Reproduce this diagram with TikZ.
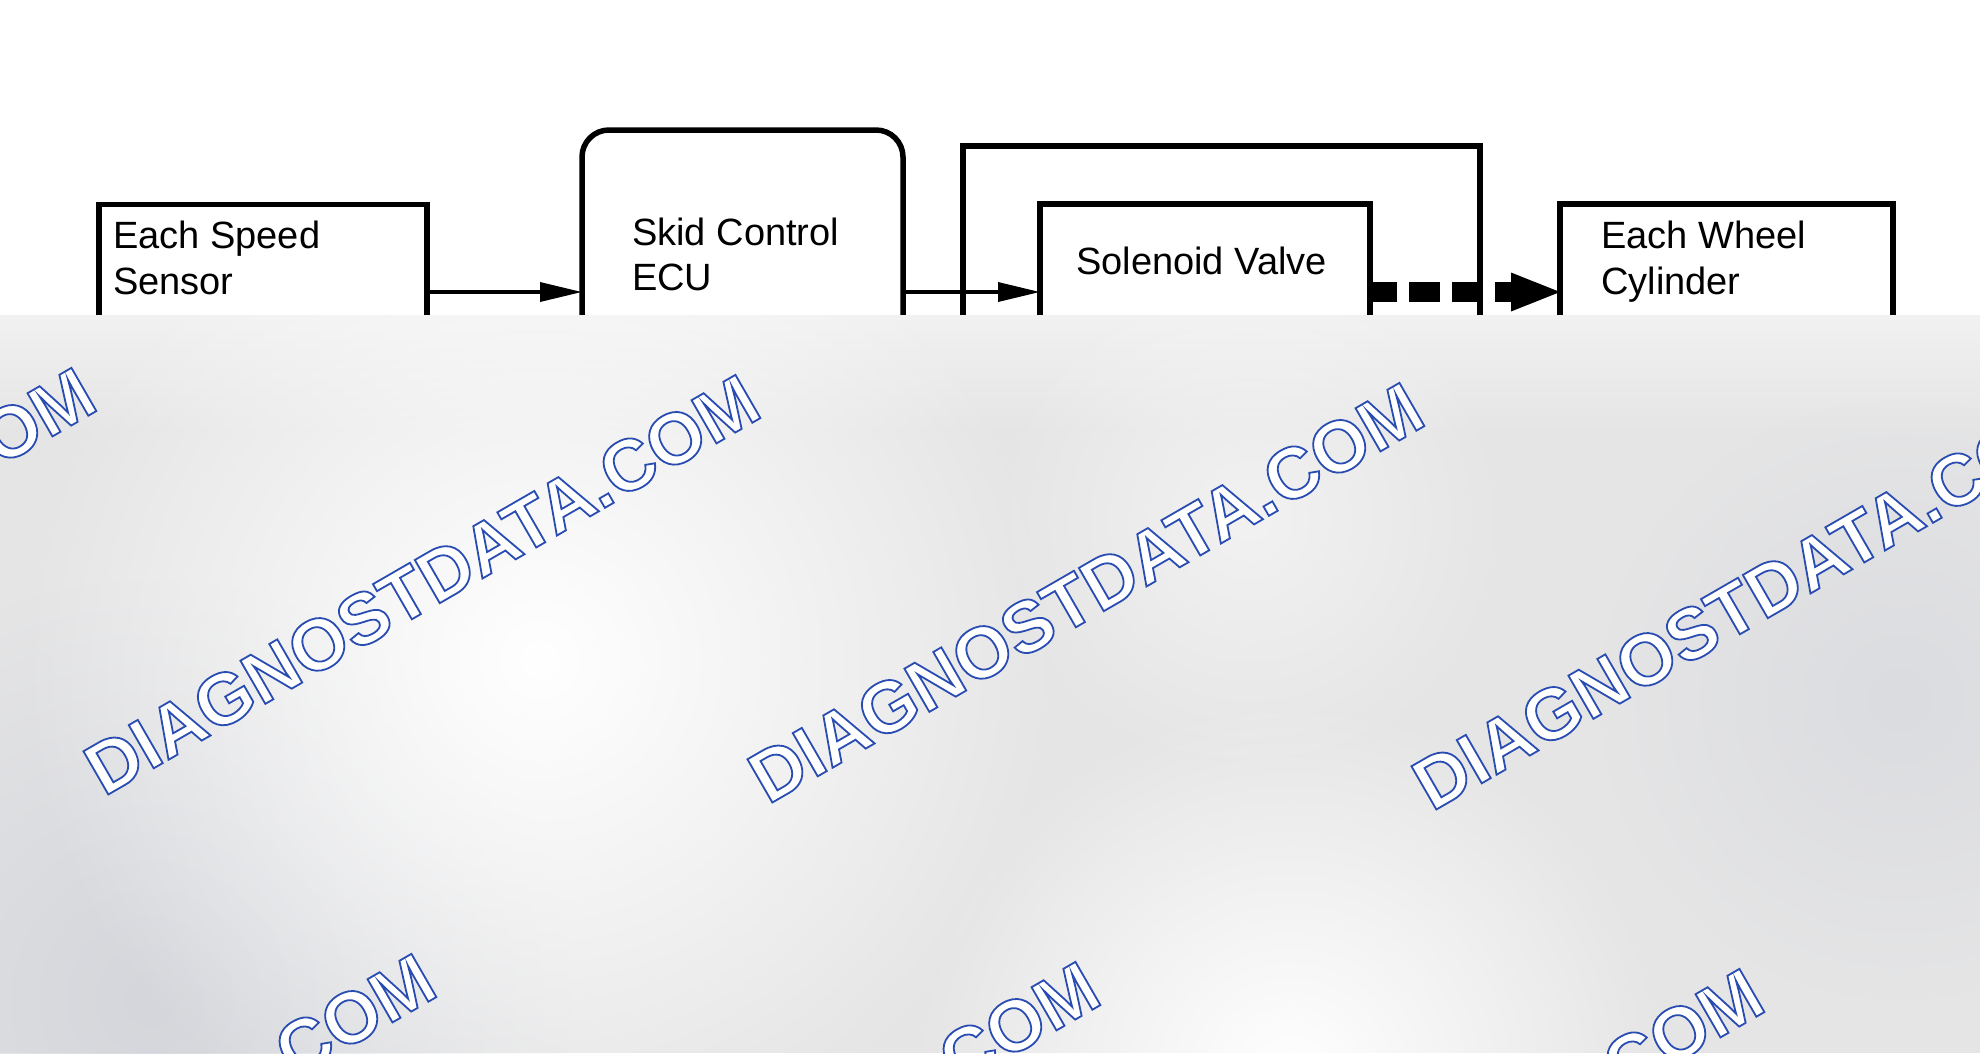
\documentclass[tikz,border=0pt]{standalone}
\usepackage{fontspec}
\setmainfont{Liberation Sans}
\newfontfamily\wmfont{Liberation Sans Bold}
\usetikzlibrary{arrows.meta,fadings}
\tikzfading[name=softdot, inner color=transparent!0, outer color=transparent!100]
\definecolor{ovbg}{RGB}{229,229,230}
\definecolor{ovdark}{RGB}{212,214,219}
\begin{document}
\begin{tikzpicture}[x=1pt,y=-1pt,
  blk/.style={draw=black, line width=5.5pt, fill=white, outer sep=0pt, inner sep=0pt},
  lbl/.style={font=\fontsize{38pt}{45pt}\selectfont, anchor=base west, inner sep=0pt, text=black},
  conn/.style={line width=3.5pt, -{Triangle[length=42pt,width=19pt]}},
  flow/.style={line width=20pt, dash pattern=on 31pt off 12pt, dash phase=4pt,
     -{Triangle[length=49pt,width=39pt,line width=0pt]}},
  wm/.style={font=\wmfont\fontsize{72.5pt}{72.5pt}\selectfont, text=white, rotate=30,
     anchor=base west, inner sep=0pt}]
\useasboundingbox (0,0) rectangle (1980,1053);
\fill[white] (0,0) rectangle (1980,1053);

% boxes
\node[blk, minimum width=517pt, minimum height=700pt] (outer) at (1221.5,496) {};
\node[blk, minimum width=328pt, minimum height=175pt] (ws) at (263,292) {};
\node[blk, rounded corners=27pt, minimum width=321pt, minimum height=324pt] (ecu) at (742.5,292) {};
\node[blk, minimum width=330pt, minimum height=176pt] (sv) at (1205,292) {};
\node[blk, minimum width=333pt, minimum height=176pt] (wc) at (1726.5,292) {};

% texts
\node[lbl] (wsa) at (113,248) {Each Speed};
\node[lbl] (wsb) at (113,294) {Sensor};
\node[lbl] (ecua) at (632,245) {Skid Control};
\node[lbl] (ecub) at (632,290) {ECU};
\node[lbl] (sva) at (1076,274) {Solenoid Valve};
\node[lbl] (wca) at (1601,248) {Each Wheel};
\node[lbl] (wcb) at (1601,294) {Cylinder};

% connectors
\draw[conn] (ws.east) -- (ecu.west);
\draw[conn] (ecu.east) -- (sv.west);
\draw[flow] (sv.east) -- (wc.west);

% overlay
\begin{scope}
\clip (0,315) rectangle (1980,1053);
\fill[ovbg] (0,315) rectangle (1980,1053);
\shade[top color={rgb,255:red,241;green,241;blue,241}, bottom color=ovbg] (0,315) rectangle (1980,430);
\fill[ovdark, path fading=softdot] (150,1000) circle (420);
\fill[ovdark, opacity=0.6, path fading=softdot] (1900,700) circle (300);
\fill[white, path fading=softdot] (540,660) circle (520);
\fill[white, path fading=softdot] (1290,1080) circle (380);
\fill[white, opacity=0.5, path fading=softdot] (1250,520) circle (260);
\foreach \x/\y in {-560/790, 104/797, 768/805, 1432/812, -220/1376, 444/1384, 1108/1391}{
  \node[wm] at (\x,\y) {\special{pdf:literal direct 2 Tr 0.16 0.30 0.70 RG 1.8 w}DIAGNOSTDATA.COM};
}
\end{scope}
\end{tikzpicture}
\end{document}
